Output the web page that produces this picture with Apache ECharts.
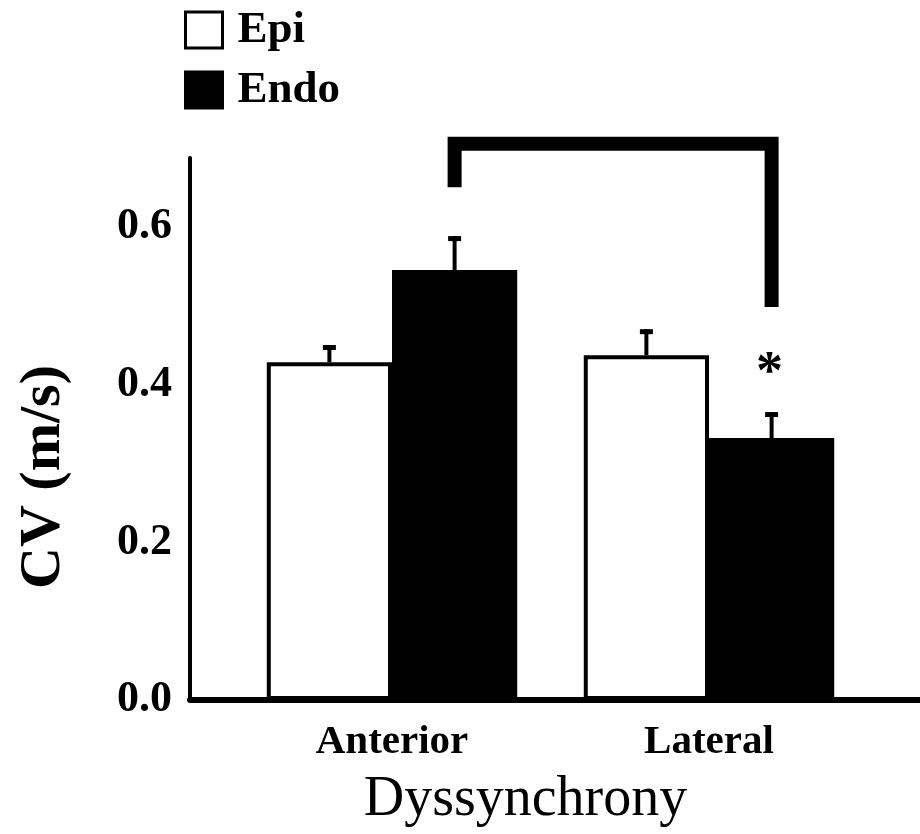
<!DOCTYPE html>
<html><head><meta charset="utf-8">
<script src="https://cdn.jsdelivr.net/npm/echarts@6/dist/echarts.min.js"></script>
<style>html,body{margin:0;padding:0;background:#fff}#c{width:920px;height:834px}</style>
</head><body><div id="c"></div>
<script>
const categories = ['Anterior', 'Lateral'];
const epiMean = [0.428, 0.437];
const epiErr = [0.022, 0.033];
const endoMean = [0.545, 0.332];
const endoErr = [0.043, 0.033];
const endoMarks = ['', '*'];
const yTicks = [0, 0.2, 0.4, 0.6];
const bracketEnds = [0.650, 0.498];
const bracketTop = 0.705;

const FONT = '"Liberation Serif", "DejaVu Serif", serif';
const YMAX = 0.687;
const GAP = 0.21;

function errItem(sign, marks) {
  return function (params, api) {
    const c = api.value(0), m = api.value(1), e = api.value(2);
    const band = api.size([1, 0])[0];
    const off = sign * band * (1 - GAP) / 4;
    const base = api.coord([c, m]);
    const top = api.coord([c, m + e]);
    const x = base[0] + off;
    const children = [
      {type: 'line', shape: {x1: x, y1: base[1], x2: x, y2: top[1]}, style: {stroke: '#000', lineWidth: 4}},
      {type: 'rect', shape: {x: x - 6.5, y: top[1], width: 13, height: 5}, style: {fill: '#000'}}
    ];
    const mk = marks ? marks[params.dataIndex] : '';
    if (mk) children.push({type: 'text', x: x - 2, y: top[1] - 38, style: {text: mk, font: 'bold 54px ' + FONT, fill: '#000', align: 'center', verticalAlign: 'middle'}});
    return {type: 'group', children};
  };
}

const chart = echarts.init(document.getElementById('c'), null, {renderer: 'canvas'});
chart.setOption({
  animation: false,
  backgroundColor: '#fff',
  legend: {
    orient: 'vertical', left: 184, top: 6, padding: 0,
    itemWidth: 37, itemHeight: 36, itemGap: 12,
    icon: 'rect',
    itemStyle: {borderColor: '#000', borderWidth: 3},
    textStyle: {fontFamily: FONT, fontWeight: 'bold', fontSize: 45, color: '#000', lineHeight: 48, padding: [0, 0, 0, 10]},
    data: ['Epi', 'Endo']
  },
  grid: [
    {left: 233.5, right: 52.5, top: 158, bottom: 134},
    {left: 190, right: -20, top: 158, bottom: 134}
  ],
  xAxis: [
    {type: 'category', gridIndex: 0, data: categories,
     axisLine: {show: false}, axisTick: {show: false},
     axisLabel: {fontFamily: FONT, fontWeight: 'bold', fontSize: 41, color: '#000', margin: 22},
     name: 'Dyssynchrony', nameLocation: 'middle', nameGap: 72,
     nameTextStyle: {fontFamily: FONT, fontSize: 56, color: '#000', padding: [0, 50, 0, 0]}},
    {type: 'value', gridIndex: 1, min: 0, max: 1,
     axisLine: {show: true, lineStyle: {color: '#000', width: 6}},
     axisTick: {show: false}, axisLabel: {show: false}, splitLine: {show: false}}
  ],
  yAxis: [
    {type: 'value', gridIndex: 0, min: 0, max: YMAX, show: false, splitLine: {show: false}},
    {type: 'value', gridIndex: 1, min: 0, max: YMAX, interval: 0.2,
     axisLine: {show: true, lineStyle: {color: '#000', width: 4}},
     axisTick: {show: false}, splitLine: {show: false},
     axisLabel: {fontFamily: FONT, fontWeight: 'bold', fontSize: 44, color: '#000', margin: 18,
       formatter: v => yTicks.some(t => Math.abs(t - v) < 1e-6) ? v.toFixed(1) : ''},
     name: 'CV (m/s)', nameLocation: 'middle', nameGap: 117,
     nameTextStyle: {fontFamily: FONT, fontWeight: 'bold', fontSize: 58, color: '#000', padding: [0, 96, 0, 0]}}
  ],
  series: [
    {name: 'Epi', type: 'bar', xAxisIndex: 0, yAxisIndex: 0, data: epiMean, barGap: '0%', barCategoryGap: (GAP * 100) + '%',
     itemStyle: {color: '#fff', borderColor: '#000', borderWidth: 4}},
    {name: 'Endo', type: 'bar', xAxisIndex: 0, yAxisIndex: 0, data: endoMean, barGap: '0%', barCategoryGap: (GAP * 100) + '%',
     itemStyle: {color: '#000', borderColor: '#000', borderWidth: 4}},
    {type: 'custom', xAxisIndex: 0, yAxisIndex: 0, z: 5,
     data: categories.map((c, i) => [i, epiMean[i], epiErr[i]]), renderItem: errItem(-1, null)},
    {type: 'custom', xAxisIndex: 0, yAxisIndex: 0, z: 5,
     data: categories.map((c, i) => [i, endoMean[i], endoErr[i]]), renderItem: errItem(1, endoMarks)},
    {type: 'custom', xAxisIndex: 0, yAxisIndex: 0, z: 5, clip: false,
     encode: {x: [0, 2], y: [1, 3, 4]},
     data: [[0, bracketEnds[0], 1, bracketEnds[1], bracketTop]],
     renderItem: function (params, api) {
       const band = api.size([1, 0])[0];
       const off = band * (1 - GAP) / 4;
       const p1 = api.coord([api.value(0), api.value(1)]);
       const p2 = api.coord([api.value(0), api.value(4)]);
       const p3 = api.coord([api.value(2), api.value(4)]);
       const p4 = api.coord([api.value(2), api.value(3)]);
       return {type: 'polyline', shape: {points: [[p1[0] + off, p1[1]], [p2[0] + off, p2[1]], [p3[0] + off, p3[1]], [p4[0] + off, p4[1]]]},
         style: {stroke: '#000', lineWidth: 14, fill: null, lineJoin: 'miter', lineCap: 'butt'}};
     }}
  ]
});
</script></body></html>
